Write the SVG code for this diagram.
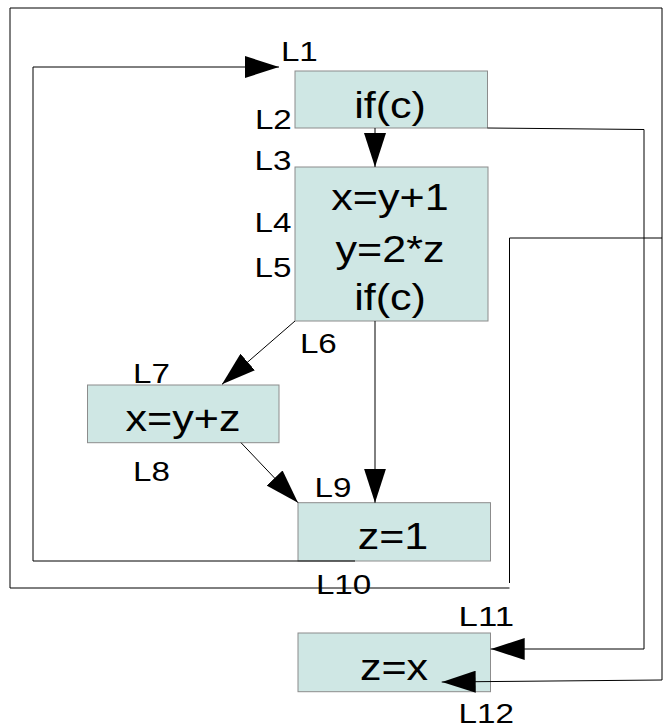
<svg xmlns="http://www.w3.org/2000/svg" width="663" height="728" viewBox="0 0 663 728">
<defs>
<marker id="ah" markerUnits="userSpaceOnUse" markerWidth="34" markerHeight="22" refX="34" refY="11" orient="auto" viewBox="0 0 34 22"><path d="M0,0 L34,11 L0,22 z" fill="#000"/></marker>
</defs>
<style>
.box{fill:#cfe7e4;stroke:#8c8c8c;stroke-width:1}
.ln{fill:none;stroke:#000;stroke-width:1}
.arr{marker-end:url(#ah)}
.main{font-family:"Liberation Sans",Arial,sans-serif;font-size:36px;fill:#000;text-anchor:middle}
.lbl{font-family:"Liberation Sans",Arial,sans-serif;font-size:27px;fill:#000}
</style>
<rect width="663" height="728" fill="#fff"/>
<g id="n1"><rect class="box" x="295" y="71" width="192.5" height="57"/><text class="main" x="390" y="117.5" textLength="71.7" lengthAdjust="spacingAndGlyphs">if(c)</text></g>
<g id="n2"><rect class="box" x="295" y="167" width="193" height="154"/><text class="main" x="390" y="210" textLength="117.3" lengthAdjust="spacingAndGlyphs">x=y+1</text><text class="main" x="390" y="261.7" textLength="108.9" lengthAdjust="spacingAndGlyphs">y=2*z</text><text class="main" x="390" y="310" textLength="71.7" lengthAdjust="spacingAndGlyphs">if(c)</text></g>
<g id="n3"><rect class="box" x="87.5" y="385" width="191.5" height="57.7"/><text class="main" x="183" y="431" textLength="114.9" lengthAdjust="spacingAndGlyphs">x=y+z</text></g>
<g id="n4"><rect class="box" x="298" y="502.7" width="192.5" height="58.3"/><text class="main" x="393" y="549.3" textLength="70.6" lengthAdjust="spacingAndGlyphs">z=1</text></g>
<g id="n5"><rect class="box" x="298" y="633" width="192.5" height="58.7"/><text class="main" x="394" y="680" textLength="68.2" lengthAdjust="spacingAndGlyphs">z=x</text></g>
<g id="connectors">
<polyline class="ln" points="509.5,588 10,588 10,8 662,8 662,680"/>
<polyline class="ln" points="509.5,583 509.5,238 662,238"/>
<polyline class="ln arr" points="662,680 441.7,682"/>
<polyline class="ln arr" points="355,561 33,561 33,67 279,67"/>
<line class="ln arr" x1="375" y1="128" x2="375" y2="167"/>
<line class="ln arr" x1="295" y1="321" x2="222" y2="384.3"/>
<line class="ln arr" x1="375" y1="321" x2="375" y2="502.7"/>
<line class="ln arr" x1="241" y1="442.7" x2="298" y2="502.7"/>
<polyline class="ln arr" points="487.5,128 644,129.5 644,649 490.7,649"/>
</g>
<g id="labels">
<text class="lbl" x="280.9" y="61" textLength="36.9" lengthAdjust="spacingAndGlyphs">L1</text>
<text class="lbl" x="254.9" y="129.3" textLength="36.9" lengthAdjust="spacingAndGlyphs">L2</text>
<text class="lbl" x="254.6" y="170" textLength="36.9" lengthAdjust="spacingAndGlyphs">L3</text>
<text class="lbl" x="254.6" y="231.7" textLength="36.9" lengthAdjust="spacingAndGlyphs">L4</text>
<text class="lbl" x="254.6" y="276.7" textLength="36.9" lengthAdjust="spacingAndGlyphs">L5</text>
<text class="lbl" x="299.9" y="352.7" textLength="36.9" lengthAdjust="spacingAndGlyphs">L6</text>
<text class="lbl" x="133" y="383.3" textLength="36.9" lengthAdjust="spacingAndGlyphs">L7</text>
<text class="lbl" x="133" y="480.7" textLength="36.9" lengthAdjust="spacingAndGlyphs">L8</text>
<text class="lbl" x="314.6" y="496.7" textLength="36.9" lengthAdjust="spacingAndGlyphs">L9</text>
<text class="lbl" x="315.9" y="594" textLength="55.4" lengthAdjust="spacingAndGlyphs">L10</text>
<text class="lbl" x="458.6" y="625.7" textLength="55.4" lengthAdjust="spacingAndGlyphs">L11</text>
<text class="lbl" x="458.6" y="723.3" textLength="55.4" lengthAdjust="spacingAndGlyphs">L12</text>
</g>
</svg>
